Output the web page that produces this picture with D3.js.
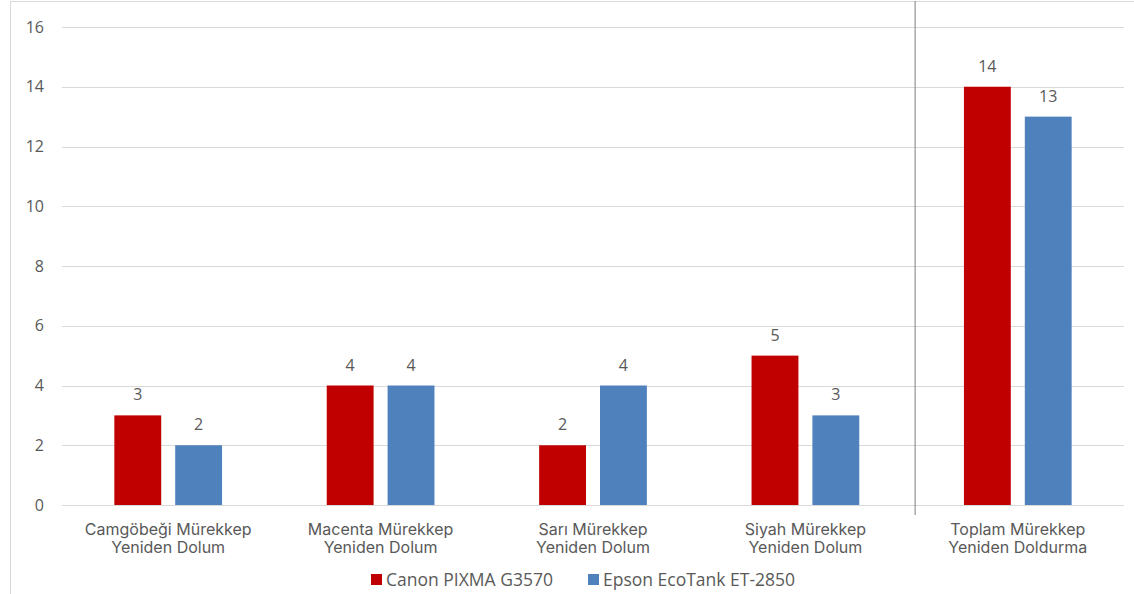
<!DOCTYPE html>
<html>
<head>
<meta charset="utf-8">
<script src="https://cdn.jsdelivr.net/npm/d3@7"></script>
<style>
  body { margin: 0; background: #fff; }
  svg text { font-family: "Open Sans", "Segoe UI", sans-serif; fill: #595959; }
  svg text.cat { font-family: Inter, "Open Sans", sans-serif; }
</style>
</head>
<body>
<div id="chart"></div>
<script>
var categories = [
    ['Camgöbeği Mürekkep', 'Yeniden Dolum'],
    ['Macenta Mürekkep', 'Yeniden Dolum'],
    ['Sarı Mürekkep', 'Yeniden Dolum'],
    ['Siyah Mürekkep', 'Yeniden Dolum'],
    ['Toplam Mürekkep', 'Yeniden Doldurma']
];
var seriesNames = ['Canon PIXMA G3570', 'Epson EcoTank ET-2850'];
var canonValues = [3, 4, 2, 5, 14];
var epsonValues = [2, 4, 4, 3, 13];
var yTicks = [0, 2, 4, 6, 8, 10, 12, 14, 16];
var colors = ['#c00000', '#4f81bd'];

var width = 1134, height = 594;
var margin = {top: 27, right: 10, bottom: 89, left: 62};

var svg = d3.select('#chart').append('svg')
    .attr('width', width)
    .attr('height', height);

// chart border
svg.append('rect')
    .attr('x', 10.5).attr('y', 1.5)
    .attr('width', width).attr('height', height)
    .attr('fill', 'none')
    .attr('stroke', '#d9d9d9');

var x0 = d3.scaleBand()
    .domain(d3.range(categories.length))
    .range([margin.left, width - margin.right]);

var x1 = d3.scaleBand()
    .domain(seriesNames)
    .range([0, x0.bandwidth()])
    .paddingInner(0.23)
    .paddingOuter(0.86);

var y = d3.scaleLinear()
    .domain([0, 16])
    .range([height - margin.bottom, margin.top]);

// gridlines
svg.append('g').selectAll('line')
    .data(yTicks)
    .enter().append('line')
    .attr('x1', margin.left)
    .attr('x2', width - margin.right)
    .attr('y1', function (d) { return Math.round(y(d)) + 0.5; })
    .attr('y2', function (d) { return Math.round(y(d)) + 0.5; })
    .attr('stroke', '#d9d9d9')
    .attr('stroke-width', 1);

// y axis labels
var yAxis = svg.append('g')
    .attr('transform', 'translate(' + (margin.left - 18) + ',0)')
    .call(d3.axisLeft(y).tickValues(yTicks).tickSize(0).tickPadding(0));
yAxis.select('.domain').remove();
yAxis.selectAll('text')
    .style('font-size', '16px')
    .attr('fill', '#595959');

// separator before the total
svg.append('line')
    .attr('x1', x0(4) + 3.5).attr('x2', x0(4) + 3.5)
    .attr('y1', 1).attr('y2', y(0) + 10)
    .attr('stroke', '#7f7f7f')
    .attr('stroke-width', 1);

var rows = categories.map(function (c, i) {
    return {i: i, values: [canonValues[i], epsonValues[i]]};
});

var groups = svg.append('g').selectAll('g')
    .data(rows)
    .enter().append('g')
    .attr('transform', function (d) { return 'translate(' + x0(d.i) + ',0)'; });

var bars = groups.selectAll('g')
    .data(function (d) {
        return d.values.map(function (v, k) { return {name: seriesNames[k], value: v, k: k}; });
    })
    .enter().append('g');

bars.append('rect')
    .attr('x', function (d) { return x1(d.name); })
    .attr('width', x1.bandwidth())
    .attr('y', function (d) { return y(d.value); })
    .attr('height', function (d) { return y(0) - y(d.value); })
    .attr('fill', function (d) { return colors[d.k]; });

bars.append('text')
    .attr('x', function (d) { return x1(d.name) + x1.bandwidth() / 2; })
    .attr('y', function (d) { return y(d.value) - 15; })
    .attr('text-anchor', 'middle')
    .style('font-size', '16px')
    .attr('fill', '#404040')
    .text(function (d) { return d.value; });

// category labels
var catLabels = svg.append('g').selectAll('text')
    .data(categories)
    .enter().append('text')
    .attr('class', 'cat')
    .attr('text-anchor', 'middle')
    .attr('x', function (d, i) { return x0(i) + x0.bandwidth() / 2; })
    .attr('y', y(0) + 30)
    .style('font-size', '16px');
catLabels.selectAll('tspan')
    .data(function (d) { return d; })
    .enter().append('tspan')
    .attr('x', function () { return this.parentNode.getAttribute('x'); })
    .attr('dy', function (d, i) { return i === 0 ? 0 : 18; })
    .text(function (d) { return d; });

// legend
var legendX = [371, 588];
var legend = svg.append('g').selectAll('g')
    .data(seriesNames)
    .enter().append('g')
    .attr('transform', function (d, i) { return 'translate(' + legendX[i] + ',574)'; });
legend.append('rect')
    .attr('width', 11).attr('height', 11)
    .attr('fill', function (d, i) { return colors[i]; });
legend.append('text')
    .attr('x', 15).attr('y', 11.5)
    .style('font-size', '17.5px')
    .text(function (d) { return d; });
</script>
</body>
</html>
